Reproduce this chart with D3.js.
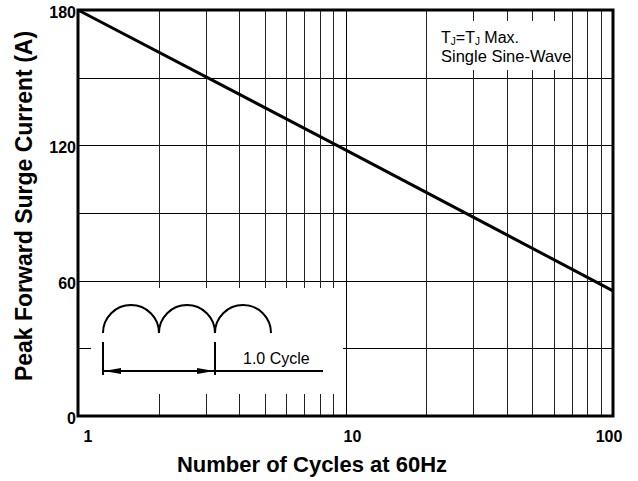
<!DOCTYPE html>
<html>
<head>
<meta charset="utf-8">
<script src="https://cdn.jsdelivr.net/npm/d3@7"></script>
<style>
  body { margin: 0; background: #fff; }
  svg { display: block; font-family: "Liberation Sans", Arial, sans-serif; }
</style>
</head>
<body>
<div id="chart"></div>
<script>
// surge curve (log x)
const cycles = [1, 10, 100];
const current = [180, 118, 55.5];

const xTickValues = [1, 10, 100];
const yTickValues = [0, 60, 120, 180];
const yGridValues = [30, 60, 90, 120, 150];
const xGridValues = [2, 3, 4, 5, 6, 7, 8, 9, 10, 20, 30, 40, 50, 60, 70, 80, 90];

const width = 638, height = 481;
const margin = {top: 10, right: 25, bottom: 65, left: 78};

const x = d3.scaleLog()
    .domain([1, 100])
    .range([margin.left, width - margin.right]);
const y = d3.scaleLinear()
    .domain([0, 180])
    .range([height - margin.bottom, margin.top]);

const svg = d3.select("#chart")
    .append("svg")
    .attr("width", width)
    .attr("height", height);

// grid
svg.append("g")
    .selectAll("line")
    .data(yGridValues)
    .enter()
        .append("line")
        .attr("x1", x(1))
        .attr("x2", x(100))
        .attr("y1", d => Math.round(y(d)) + 0.5)
        .attr("y2", d => Math.round(y(d)) + 0.5)
        .attr("stroke", "#000")
        .attr("stroke-width", 1);

svg.append("g")
    .selectAll("line")
    .data(xGridValues)
    .enter()
        .append("line")
        .attr("x1", d => Math.round(x(d)) + 0.5)
        .attr("x2", d => Math.round(x(d)) + 0.5)
        .attr("y1", y(0))
        .attr("y2", y(180))
        .attr("stroke", d => d === 10 ? "#000" : "#222")
        .attr("stroke-width", 1);

// white boxes behind the notes
svg.append("rect")
    .attr("x", 436).attr("y", 21)
    .attr("width", 136).attr("height", 49)
    .attr("fill", "#fff");
svg.append("rect")
    .attr("x", 91).attr("y", 288)
    .attr("width", 252).attr("height", 106)
    .attr("fill", "#fff");

// curve
const line = d3.line()
    .x(d => x(d[0]))
    .y(d => y(d[1]));

svg.append("path")
    .datum(cycles.map((c, i) => [c, current[i]]))
    .attr("d", line)
    .attr("fill", "none")
    .attr("stroke", "#000")
    .attr("stroke-width", 3);

// frame
svg.append("rect")
    .attr("x", x(1))
    .attr("y", y(180))
    .attr("width", x(100) - x(1))
    .attr("height", y(0) - y(180))
    .attr("fill", "none")
    .attr("stroke", "#000")
    .attr("stroke-width", 3);

// tick labels
svg.append("g")
    .selectAll("text")
    .data(yTickValues)
    .enter()
        .append("text")
        .attr("x", x(1) - 2)
        .attr("y", d => y(d) + 8)
        .attr("text-anchor", "end")
        .style("font-size", "16px")
        .style("font-weight", "bold")
        .text(d => d);

const xLabelShift = {1: 10, 10: 7, 100: -4};
svg.append("g")
    .selectAll("text")
    .data(xTickValues)
    .enter()
        .append("text")
        .attr("x", d => x(d) + xLabelShift[d])
        .attr("y", y(0) + 26)
        .attr("text-anchor", "middle")
        .style("font-size", "16px")
        .style("font-weight", "bold")
        .text(d => d);

// axis titles
svg.append("text")
    .attr("x", 312)
    .attr("y", 472)
    .attr("text-anchor", "middle")
    .style("font-size", "22px")
    .style("font-weight", "bold")
    .text("Number of Cycles at 60Hz");

svg.append("text")
    .attr("transform", "translate(32,206) rotate(-90)")
    .attr("text-anchor", "middle")
    .style("font-size", "23px")
    .style("font-weight", "bold")
    .text("Peak Forward Surge Current (A)");

// condition note
const note = svg.append("text")
    .attr("x", 441)
    .attr("y", 43)
    .style("font-size", "16px");
note.append("tspan").text("T");
note.append("tspan").attr("dy", 2).style("font-size", "10px").text("J");
note.append("tspan").attr("dy", -2).text("=T");
note.append("tspan").attr("dy", 2).style("font-size", "10px").text("J");
note.append("tspan").attr("dy", -2).text(" Max.");
svg.append("text")
    .attr("x", 441)
    .attr("y", 62)
    .style("font-size", "16.5px")
    .text("Single Sine-Wave");

// waveform sketch
const wave = svg.append("g")
    .attr("fill", "none")
    .attr("stroke", "#000")
    .attr("stroke-width", 2);
[103, 159, 215].forEach(x0 => {
    wave.append("path")
        .attr("d", `M${x0},333 A28,28 0 0 1 ${x0 + 56},333`);
});
wave.append("line").attr("x1", 103).attr("x2", 103).attr("y1", 342).attr("y2", 375);
wave.append("line").attr("x1", 215).attr("x2", 215).attr("y1", 342).attr("y2", 375);
wave.append("line").attr("x1", 104).attr("x2", 323).attr("y1", 371).attr("y2", 371);
svg.append("path")
    .attr("d", "M104,371 L121,368 L121,374 Z")
    .attr("fill", "#000");
svg.append("path")
    .attr("d", "M214,371 L197,368 L197,374 Z")
    .attr("fill", "#000");
svg.append("text")
    .attr("x", 243)
    .attr("y", 364)
    .style("font-size", "16px")
    .text("1.0 Cycle");
</script>
</body>
</html>
